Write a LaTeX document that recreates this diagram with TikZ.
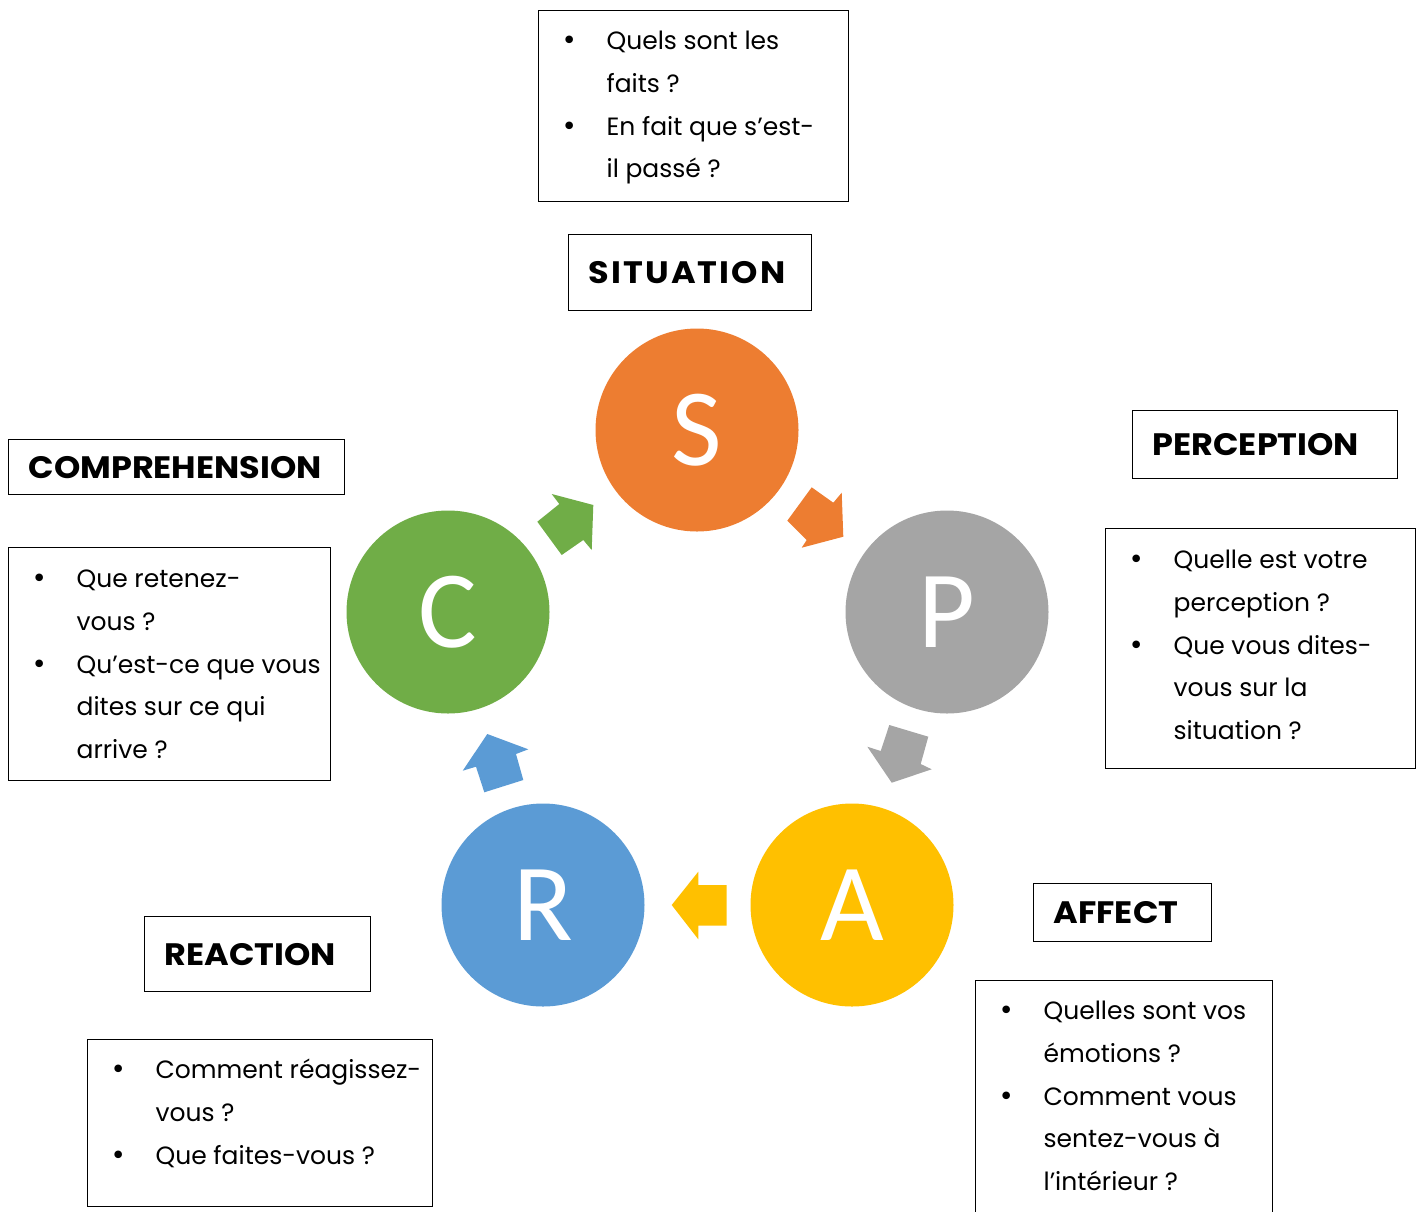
\documentclass[tikz,border=0pt]{standalone}
\usepackage{fontspec}
\setmainfont{Poppins}
\newfontfamily\letterfont{Carlito}
\newfontfamily\headfont[FakeStretch=1.08]{Poppins}
\newfontfamily\bulfont{DejaVu Sans}
\usetikzlibrary{positioning}

\definecolor{sitorange}{HTML}{ED7D31}
\definecolor{pergray}{HTML}{A5A5A5}
\definecolor{affgold}{HTML}{FFC000}
\definecolor{reablue}{HTML}{5B9BD5}
\definecolor{comgreen}{HTML}{70AD47}

% one bullet line and one follow-on line of a question box
\newcommand{\qbul}[1]{\hspace*{23bp}\makebox[45bp][l]{\bulfont\fontsize{26bp}{26bp}\selectfont •}\mbox{#1}}
\newcommand{\qgap}[1]{\hspace*{68bp}\mbox{#1}}

\begin{document}
\begin{tikzpicture}[
    x=1bp, y=-1bp,
    stage/.style={circle, minimum size=203bp, inner sep=0pt, text=white,
                  font=\letterfont\fontsize{110bp}{110bp}\selectfont},
    title/.style={draw, line width=1.2bp, anchor=north west, inner xsep=20bp,
                  inner ysep=0pt, align=left,
                  font=\headfont\bfseries\fontsize{31bp}{31bp}\selectfont},
    qbox/.style={draw, line width=1.2bp, anchor=north west, inner sep=0pt,
                 font=\fontsize{25bp}{42.7bp}\selectfont}
  ]
  \clip (0,0) rectangle (1421,1211);

  % the five stages
  \node[stage, fill=sitorange] (S) at (697,430) {S};
  \node[stage, fill=pergray]   (P) at (947,612) {P};
  \node[stage, fill=affgold]   (A) at (852,905) {A};
  \node[stage, fill=reablue]   (R) at (543,905) {R};
  \node[stage, fill=comgreen]  (C) at (448,612) {C};

  % block arrows between the stages
  \fill[sitorange] (811.7,487.3) -- (833.3,502.7) -- (841.7,492.7) -- (843.3,536.7)
    -- (801.7,547.7) -- (806.7,540) -- (787.3,520.7) -- cycle;
  \fill[pergray] (889.3,725) -- (928.3,736.7) -- (920.7,764) -- (931.7,769.3)
    -- (891.7,782.7) -- (867.3,746.7) -- (880.7,751) -- cycle;
  \fill[affgold] (726.7,885) -- (698.3,885) -- (698.3,871.7) -- (671.7,905)
    -- (698.3,939.3) -- (698.3,925.7) -- (726.7,925.7) -- cycle;
  \fill[reablue] (487.3,734) -- (528.3,749.3) -- (516,754) -- (523.3,780)
    -- (484.3,792.3) -- (476,766.7) -- (462.7,770.7) -- cycle;
  \fill[comgreen] (551.7,494) -- (593.3,505) -- (591.7,550) -- (583.3,540)
    -- (561.7,555) -- (537.3,521.7) -- (559.3,504) -- cycle;

  % titles
  \node[title, text width=203bp, minimum height=76bp] (sittitle) at (568,234)
    {\addfontfeatures{LetterSpace=7}SITUATION};
  \node[title, text width=225bp, minimum height=68bp] (pertitle) at (1132,410) {PERCEPTION};
  \node[title, text width=138bp, minimum height=58bp] (afftitle) at (1033,883) {AFFECT};
  \node[title, text width=186bp, minimum height=75bp] (reatitle) at (144,916) {REACTION};
  \node[title, text width=296bp, minimum height=55bp] (comtitle) at (8,439) {COMPREHENSION};

  % questions
  \node[qbox] (sitq) at (538,10) {\parbox[c][191bp][t]{310bp}{\rule{0pt}{39bp}%
    \qbul{Quels sont les}\\ \qgap{faits ?}\\ \qbul{En fait que s’est-}\\ \qgap{il passé ?}}};
  \node[qbox] (perq) at (1105,528) {\parbox[c][240bp][t]{310bp}{\rule{0pt}{40bp}%
    \qbul{Quelle est votre}\\ \qgap{perception ?}\\ \qbul{Que vous dites-}\\
    \qgap{vous sur la}\\ \qgap{situation ?}}};
  \node[qbox] (affq) at (975,980) {\parbox[c][260bp][t]{297bp}{\rule{0pt}{39bp}%
    \qbul{Quelles sont vos}\\ \qgap{émotions ?}\\ \qbul{Comment vous}\\
    \qgap{sentez-vous à}\\ \qgap{l’intérieur ?}}};
  \node[qbox] (reaq) at (87,1039) {\parbox[c][167bp][t]{345bp}{\rule{0pt}{39bp}%
    \qbul{Comment réagissez-}\\ \qgap{vous ?}\\ \qbul{Que faites-vous ?}}};
  \node[qbox] (comq) at (8,547) {\parbox[c][233bp][t]{322bp}{\rule{0pt}{40bp}%
    \qbul{Que retenez-}\\ \qgap{vous ?}\\ \qbul{Qu’est-ce que vous}\\
    \qgap{dites sur ce qui}\\ \qgap{arrive ?}}};
\end{tikzpicture}
\end{document}
